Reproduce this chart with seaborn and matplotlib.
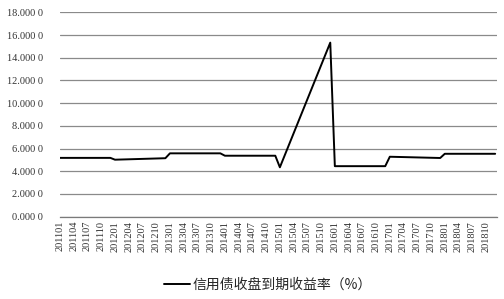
import matplotlib
matplotlib.use("Agg")
import matplotlib.pyplot as plt
import seaborn as sns
import pandas as pd

# ---- data ----
years = ["2011", "2012", "2013", "2014", "2015", "2016", "2017", "2018"]
month_nums = ["01", "02", "03", "04", "05", "06", "07", "08", "09", "10", "11", "12"]
all_months = [y + m for y in years for m in month_nums]  # monthly category axis

tick_labels = ["201101", "201104", "201107", "201110",
               "201201", "201204", "201207", "201210",
               "201301", "201304", "201307", "201310",
               "201401", "201404", "201407", "201410",
               "201501", "201504", "201507", "201510",
               "201601", "201604", "201607", "201610",
               "201701", "201704", "201707", "201710",
               "201801", "201804", "201807", "201810"]

# observed points (line connects consecutive observations)
point_months = ["201101", "201112",
                "201201", "201212",
                "201301", "201312",
                "201401", "201412",
                "201501", "201512",
                "201601", "201612",
                "201701", "201712",
                "201801", "201812"]
yield_values = [5.18, 5.18,
                5.02, 5.15,
                5.58, 5.58,
                5.37, 5.37,
                4.35, 15.33,
                4.45, 4.45,
                5.28, 5.17,
                5.54, 5.54]

series_name = "信用债收盘到期收益率（%）"

# ---- plot ----
sns.set_theme(style="white")
plt.rcParams["font.family"] = ["Liberation Serif", "Noto Sans CJK SC", "DejaVu Sans"]

fig = plt.figure(figsize=(5.04, 2.99), dpi=100)
ax = fig.add_axes([60 / 504, 1 - 216.7 / 299, 437 / 504, 204.4 / 299])

df = pd.DataFrame({
    "pos": [all_months.index(m) for m in point_months],
    "value": yield_values,
})
sns.lineplot(data=df, x="pos", y="value", color="black", linewidth=1.4,
             ax=ax, label=series_name, legend=False)

ax.set_xlim(0, len(all_months) - 0.6)
ax.set_ylim(0, 18)
yt = list(range(0, 19, 2))
ax.set_yticks(yt)
ax.set_yticklabels([f"{v:.3f} 0" for v in yt], fontsize=7.5,
                   fontfamily=["Liberation Serif", "DejaVu Serif"])
ax.set_xticks([all_months.index(t) for t in tick_labels])
ax.set_xticklabels(tick_labels, rotation=90, fontsize=7.5,
                   fontfamily=["Liberation Serif", "DejaVu Serif"])
ax.tick_params(axis="both", length=0, colors="#333333")
ax.tick_params(axis="y", pad=12)
ax.tick_params(axis="x", pad=3)
ax.set_xlabel("")
ax.set_ylabel("")

ax.yaxis.grid(True, color="#8a8a8a", linewidth=0.9)
ax.xaxis.grid(False)
for s in ["top", "right", "left"]:
    ax.spines[s].set_visible(False)
ax.spines["bottom"].set_color("#7a7a7a")
ax.spines["bottom"].set_linewidth(0.9)

handles, labels = ax.get_legend_handles_labels()
fig.legend(handles, labels, loc="center", bbox_to_anchor=(268 / 504, 1 - 285 / 299),
           frameon=False, handlelength=1.9, handletextpad=0.2,
           prop={"family": ["Noto Sans CJK SC", "DejaVu Sans"], "size": 10})

fig.savefig("out.png", dpi=100)
